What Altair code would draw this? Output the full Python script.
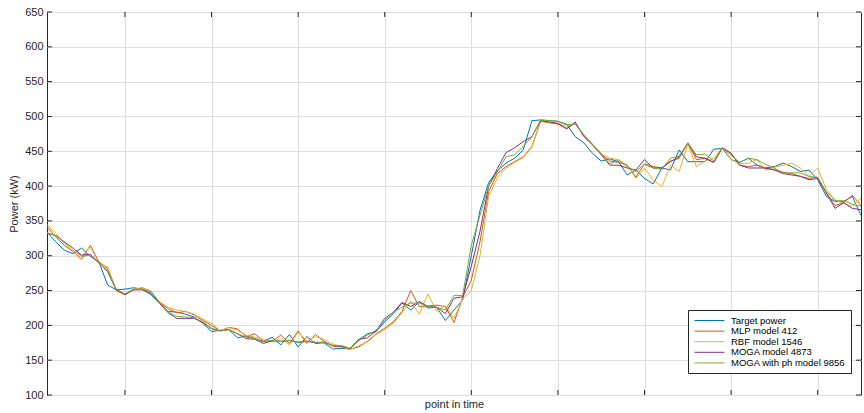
import altair as alt
import pandas as pd

# ---------------- data ----------------
t = list(range(1, 96))

target_power = [334, 320, 308, 303, 311, 299, 291, 258, 251, 252,
                254, 252, 244, 232, 220, 219, 216, 212, 203, 191,
                193, 194, 182, 185, 181, 177, 183, 172, 187, 169,
                184, 174, 175, 166, 167, 166, 179, 188, 191, 205,
                217, 232, 222, 234, 225, 226, 207, 222, 236, 300,
                365, 405, 422, 433, 440, 452, 494, 495, 494, 493,
                489, 471, 462, 447, 436, 439, 435, 416, 423, 411,
                403, 426, 423, 452, 435, 435, 435, 453, 454, 438,
                434, 440, 430, 426, 428, 433, 428, 421, 423, 409,
                385, 378, 378, 385, 358]

mlp_412 = [342, 327, 315, 306, 295, 315, 291, 282, 250, 244,
           251, 254, 249, 233, 224, 218, 220, 215, 207, 200,
           192, 197, 195, 184, 188, 177, 177, 186, 174, 192,
           174, 187, 177, 170, 169, 166, 169, 177, 188, 196,
           205, 220, 250, 227, 228, 229, 227, 204, 240, 265,
           320, 392, 418, 428, 435, 442, 457, 493, 491, 489,
           483, 490, 472, 460, 447, 436, 434, 430, 413, 432,
           428, 426, 436, 440, 462, 438, 440, 434, 455, 447,
           430, 428, 430, 425, 424, 420, 418, 414, 411, 413,
           390, 372, 376, 387, 372]

rbf_1546 = [345, 332, 318, 308, 299, 313, 289, 284, 251, 245,
            252, 254, 248, 234, 226, 222, 220, 216, 209, 203,
            192, 197, 193, 186, 183, 180, 176, 181, 172, 190,
            178, 184, 180, 173, 170, 165, 171, 176, 187, 194,
            203, 218, 235, 216, 245, 220, 228, 210, 238, 250,
            300, 385, 412, 426, 434, 441, 456, 494, 492, 490,
            486, 490, 472, 460, 446, 440, 438, 430, 411, 426,
            409, 399, 430, 421, 460, 428, 436, 440, 456, 438,
            432, 433, 438, 423, 427, 430, 433, 426, 414, 426,
            395, 380, 375, 371, 383]

moga_4873 = [332, 329, 320, 311, 301, 302, 290, 277, 251, 244,
             251, 251, 246, 232, 218, 210, 210, 210, 204, 195,
             192, 194, 188, 181, 180, 174, 178, 177, 178, 176,
             177, 175, 176, 171, 170, 167, 180, 182, 192, 210,
             219, 233, 227, 234, 227, 226, 217, 239, 241, 285,
             335, 400, 425, 448, 455, 464, 471, 494, 492, 490,
             482, 492, 471, 459, 445, 430, 430, 426, 423, 438,
             426, 426, 435, 442, 462, 442, 440, 434, 455, 447,
             430, 426, 426, 426, 423, 418, 416, 414, 409, 411,
             390, 368, 376, 368, 366]

moga_ph_9856 = [333, 329, 319, 311, 299, 301, 289, 279, 252, 245,
                252, 252, 248, 233, 219, 213, 212, 211, 205, 196,
                192, 194, 188, 183, 181, 176, 179, 177, 179, 175,
                177, 176, 175, 171, 171, 167, 178, 186, 193, 207,
                219, 226, 232, 232, 227, 226, 222, 243, 243, 315,
                358, 400, 420, 442, 445, 457, 471, 495, 494, 493,
                488, 489, 474, 460, 446, 432, 437, 428, 421, 431,
                426, 424, 440, 443, 462, 445, 446, 436, 455, 444,
                434, 440, 438, 431, 426, 419, 419, 419, 414, 412,
                392, 379, 379, 374, 371]

series_names = ["Target power", "MLP model 412", "RBF model 1546",
                "MOGA model 4873", "MOGA with ph model 9856"]
series_colors = ["#0072BD", "#D95319", "#EDB120", "#7E2F8E", "#77AC30"]

x_ticks = [10, 20, 30, 40, 50, 60, 70, 80, 90]
y_ticks = list(range(100, 651, 50))

# ---------------- build table ----------------
W, H = 814, 383
frames = []
for name, vals in zip(series_names,
                      [target_power, mlp_412, rbf_1546, moga_4873, moga_ph_9856]):
    frames.append(pd.DataFrame({"t": t, "power": vals, "series": name}))
df = pd.concat(frames, ignore_index=True)

xs = alt.Scale(domain=[1, 95], nice=False, zero=False)
ys = alt.Scale(domain=[100, 650], nice=False, zero=False)
axis_col = "#262626"
grid_col = "#dedede"

lines = alt.Chart(df).mark_line(strokeWidth=1, clip=True).encode(
    x=alt.X("t:Q", scale=xs,
            axis=alt.Axis(values=x_ticks, labels=False, ticks=False, domain=False,
                          grid=True, gridColor=grid_col, title="point in time",
                          titleFontSize=11, titleFontWeight="normal",
                          titleColor=axis_col, titlePadding=3)),
    y=alt.Y("power:Q", scale=ys,
            axis=alt.Axis(values=y_ticks, ticks=False, domain=False, grid=True,
                          gridColor=grid_col, labelFontSize=11, labelColor=axis_col,
                          labelPadding=4, title="Power (kW)", titleFontSize=11,
                          titleFontWeight="normal", titleColor=axis_col,
                          titlePadding=5)),
    color=alt.Color("series:N",
                    scale=alt.Scale(domain=series_names, range=series_colors),
                    legend=alt.Legend(title=None, orient="none", legendX=641, legendY=298,
                                      symbolType="M-3,0H3", symbolSize=100,
                                      symbolStrokeWidth=1, symbolFillColor="transparent",
                                      symbolOffset=11, labelFontSize=9.5,
                                      labelColor="#000000", strokeColor=axis_col,
                                      fillColor="white", padding=5, rowPadding=0.6,
                                      labelOffset=16)),
)

xt = pd.DataFrame({"v": x_ticks})
yt = pd.DataFrame({"v": y_ticks})

tick_b = alt.Chart(xt).mark_rule(color=axis_col, strokeWidth=1).encode(
    x=alt.X("v:Q", scale=xs, axis=None), y=alt.value(H), y2=alt.value(H - 5))
tick_t = alt.Chart(xt).mark_rule(color=axis_col, strokeWidth=1).encode(
    x=alt.X("v:Q", scale=xs, axis=None), y=alt.value(0), y2=alt.value(5))
tick_l = alt.Chart(yt).mark_rule(color=axis_col, strokeWidth=1).encode(
    y=alt.Y("v:Q", scale=ys, axis=None), x=alt.value(0), x2=alt.value(5))
tick_r = alt.Chart(yt).mark_rule(color=axis_col, strokeWidth=1).encode(
    y=alt.Y("v:Q", scale=ys, axis=None), x=alt.value(W), x2=alt.value(W - 5))

chart = alt.layer(lines, tick_b, tick_t, tick_l, tick_r).resolve_axis(
    x="independent", y="independent"
).properties(
    width=W, height=H,
    padding={"left": 47, "top": 12, "right": 3, "bottom": 18},
    autosize=alt.AutoSizeParams(type="none"),
    background="white",
).configure(font="Liberation Sans").configure_view(stroke=axis_col, strokeWidth=1)

chart.save("out.html", embed_options={"renderer": "svg", "actions": False})
